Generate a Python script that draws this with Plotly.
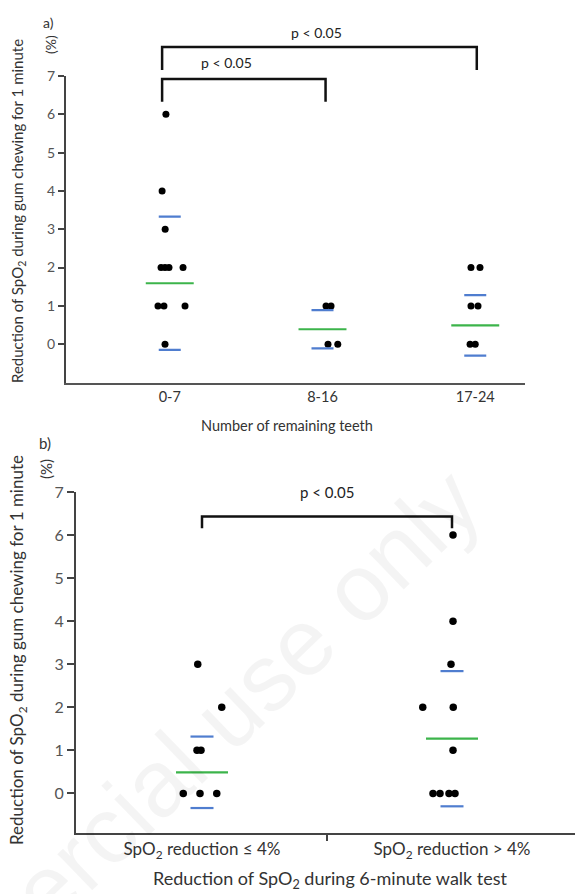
import plotly.graph_objects as go

W, H = 575, 894

# ---------------- data: panel a ----------------
a_categories = ["0-7", "8-16", "17-24"]
a_group = [0, 0, 0, 0, 0, 0, 0, 0, 0, 0, 0, 1, 1, 1, 1, 2, 2, 2, 2, 2, 2]
a_values = [6, 4, 3, 2, 2, 2, 2, 1, 1, 1, 0, 1, 1, 0, 0, 2, 2, 1, 1, 0, 0]
a_jitter = [-0.025, -0.05, -0.03, -0.057, -0.031, -0.005, 0.087, -0.077, -0.038, 0.10, -0.031,
            0.023, 0.056, 0.036, 0.10,
            -0.028, 0.031, -0.028, 0.018, -0.034, 0.0]
a_mean = [1.59, 0.39, 0.49]
a_sd = [1.74, 0.50, 0.79]

# ---------------- data: panel b ----------------
b_categories = ["SpO<sub>2</sub> reduction \u2264 4%", "SpO<sub>2</sub> reduction > 4%"]
b_group = [0, 0, 0, 0, 0, 0, 0, 1, 1, 1, 1, 1, 1, 1, 1, 1, 1]
b_values = [3, 2, 1, 1, 0, 0, 0, 6, 4, 3, 2, 2, 1, 0, 0, 0, 0]
b_jitter = [-0.017, 0.079, -0.02, -0.004, -0.075, -0.008, 0.059,
            0.004, 0.004, -0.004, -0.117, 0.005, 0.004, -0.076, -0.048, -0.012, 0.012]
b_mean = [0.49, 1.27]
b_sd = [0.83, 1.57]

y_ticks = [0, 1, 2, 3, 4, 5, 6, 7]
p_text = "p < 0.05"

# ---------------- style ----------------
FONT = "Lato"
GREEN = "#3cb44b"
BLUE = "#4f7dcf"
AXC = "#444444"
TXT = "#333333"


def px_x(p):
    return p / W


def px_y(p):
    return 1 - p / H


fig = go.Figure()


def add_panel(xa, ya, groups, values, jitter, means, sds, ghw, bhw, msize):
    fig.add_trace(go.Scatter(
        x=[g + j for g, j in zip(groups, jitter)], y=values, mode="markers",
        marker=dict(color="black", size=msize, line=dict(width=0)),
        xaxis=xa, yaxis=ya, showlegend=False, hoverinfo="skip"))
    gx, gy, bx, by = [], [], [], []
    for i, (m, s) in enumerate(zip(means, sds)):
        gx += [i - ghw, i + ghw, None]
        gy += [m, m, None]
        bx += [i - bhw, i + bhw, None, i - bhw, i + bhw, None]
        by += [m + s, m + s, None, m - s, m - s, None]
    fig.add_trace(go.Scatter(x=gx, y=gy, mode="lines", line=dict(color=GREEN, width=2.2),
                             xaxis=xa, yaxis=ya, showlegend=False, hoverinfo="skip"))
    fig.add_trace(go.Scatter(x=bx, y=by, mode="lines", line=dict(color=BLUE, width=2.2),
                             xaxis=xa, yaxis=ya, showlegend=False, hoverinfo="skip"))


add_panel("x", "y", a_group, a_values, a_jitter, a_mean, a_sd, 0.157, 0.072, 7)
add_panel("x2", "y2", b_group, b_values, b_jitter, b_mean, b_sd, 0.104, 0.046, 7.5)

# panel a geometry
A_C0, A_STEP = 169.75, 152.75
a_xrange = [(66 - A_C0) / A_STEP, (525 - A_C0) / A_STEP]
# panel b geometry
B_C0, B_STEP = 202, 250
b_xrange = [(76 - B_C0) / B_STEP, (575 - B_C0) / B_STEP]

common_y = dict(showline=True, linecolor=AXC, linewidth=2, ticks="outside",
                tickwidth=2, tickcolor=AXC, showgrid=False, zeroline=False,
                tickvals=y_ticks, ticktext=[str(v) for v in y_ticks])

fig.update_layout(
    width=W, height=H, template="none",
    margin=dict(l=0, r=0, t=0, b=0),
    paper_bgcolor="white", plot_bgcolor="white",
    font=dict(family=FONT, color=TXT),
    xaxis=dict(domain=[px_x(66), px_x(525)], range=a_xrange, showline=True, linecolor="#555555",
               linewidth=2, showgrid=False, zeroline=False, ticks="",
               tickvals=[0, 1, 2], ticktext=a_categories, tickfont=dict(size=14.5, color=TXT),
               ticklabelstandoff=0, anchor="y"),
    yaxis=dict(domain=[px_y(382.5), px_y(76)], range=[-1, 7], anchor="x", ticklen=6,
               tickfont=dict(size=14, color="#555555"), **common_y),
    xaxis2=dict(domain=[px_x(76), 1.0], range=b_xrange, showline=True, linecolor=AXC,
                linewidth=2, showgrid=False, zeroline=False, ticks="",
                tickvals=[0, 1], ticktext=b_categories, tickfont=dict(size=17, color=TXT),
                ticklabelstandoff=0, anchor="y2",
                minor=dict(tickvals=[0.5], ticks="outside", ticklen=6, tickwidth=2, tickcolor=AXC)),
    yaxis2=dict(domain=[px_y(833), px_y(492)], range=[-0.92, 7], anchor="x2", ticklen=7,
                tickfont=dict(size=16, color="#555555"), **common_y),
)

# ---------------- significance brackets ----------------
def fa(p):  # pixel -> y-domain fraction, panel a
    return (382.5 - p) / 306.5

brackets_a = [(-0.05, 2.01, fa(47), fa(70)), (-0.05, 1.02, fa(79), fa(101.7))]
for x0, x1, ytop, ybot in brackets_a:
    fig.add_shape(type="path", xref="x", yref="y domain",
                  path=f"M {x0},{ybot} L {x0},{ytop} L {x1},{ytop} L {x1},{ybot}",
                  line=dict(color="#111111", width=2.5))
fig.add_annotation(x=(316 - A_C0) / A_STEP, y=fa(33), xref="x", yref="y domain",
                   xanchor="center", yanchor="middle",
                   text=p_text, showarrow=False, font=dict(size=14, color="#222222"))
fig.add_annotation(x=(226 - A_C0) / A_STEP, y=fa(63), xref="x", yref="y domain",
                   xanchor="center", yanchor="middle",
                   text=p_text, showarrow=False, font=dict(size=14, color="#222222"))

fig.add_shape(type="path", xref="x2", yref="y2",
              path="M 0,6.16 L 0,6.43 L 1,6.43 L 1,6.16",
              line=dict(color="#111111", width=2.5))
fig.add_annotation(x=0.5, y=7.0, xref="x2", yref="y2", text=p_text, showarrow=False,
                   xanchor="center", yanchor="middle",
                   font=dict(size=15, color="#222222"))

# ---------------- labels ----------------
ytitle = "Reduction of SpO<sub>2</sub> during gum chewing for 1 minute"
labels = [
    dict(text="a)", x=48, y=23, size=14, angle=0),
    dict(text="(%)", x=51, y=44, size=14, angle=-90),
    dict(text=ytitle, x=18, y=211, size=15, angle=-90),
    dict(text="Number of remaining teeth", x=287, y=425, size=14.5, angle=0),
    dict(text="b)", x=45, y=443, size=15, angle=0),
    dict(text="(%)", x=46, y=469, size=15, angle=-90),
    dict(text=ytitle, x=18, y=650, size=17, angle=-90),
    dict(text="Reduction of SpO<sub>2</sub> during 6-minute walk test", x=330, y=879, size=18, angle=0),
]
for lb in labels:
    fig.add_annotation(x=px_x(lb["x"]), y=px_y(lb["y"]), xref="paper", yref="paper",
                       text=lb["text"], showarrow=False, textangle=lb["angle"],
                       xanchor="center", yanchor="middle",
                       font=dict(size=lb["size"], color=TXT, family=FONT))

# faint publisher watermark
fig.add_annotation(x=px_x(78), y=px_y(858), xref="paper", yref="paper",
                   xanchor="center", yanchor="middle",
                   text="Non-commercial use only", showarrow=False, textangle=-44,
                   font=dict(size=95, color="rgba(0,0,0,0.045)", family="Liberation Sans"))

fig.write_html("out.html", config={"displayModeBar": False},
               post_script="document.body.style.margin='0px';")
